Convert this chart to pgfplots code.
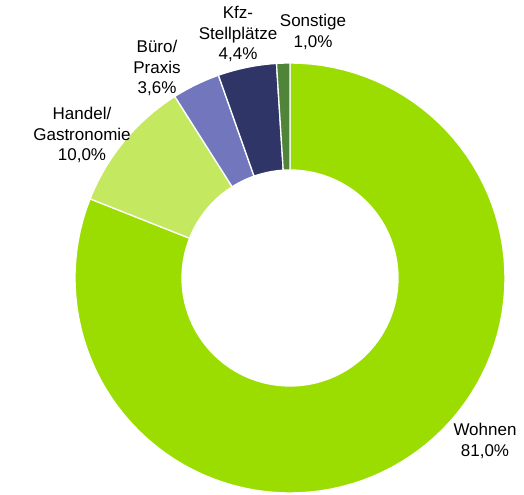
\documentclass[border=0pt]{standalone}
\usepackage{pgfplots}
\pgfplotsset{compat=1.18}
\usepackage{fontspec}
\setmainfont{Liberation Sans}
\definecolor{cWohnen}{RGB}{155,221,0}
\definecolor{cHandel}{RGB}{196,232,96}
\definecolor{cBuero}{RGB}{114,119,189}
\definecolor{cKfz}{RGB}{48,53,103}
\definecolor{cSonst}{RGB}{79,132,57}
% shares in percent
\def\vWohnen{81.0}
\def\vHandel{10.0}
\def\vBuero{3.6}
\def\vKfz{4.4}
\def\vSonst{1.0}
\pgfmathsetmacro\aA{90}
\pgfmathsetmacro\aB{\aA-\vWohnen*3.6}
\pgfmathsetmacro\aC{\aB-\vHandel*3.6}
\pgfmathsetmacro\aD{\aC-\vBuero*3.6}
\pgfmathsetmacro\aE{\aD-\vKfz*3.6}
\pgfmathsetmacro\aF{\aE-\vSonst*3.6}
\newcommand{\ringslice}[3]{%
\addplot[fill=#3, draw=white, line width=1.3bp, domain=0:201, samples=202, variable=\t]
 ({290+((\t<100.5) ? 215 : 108)*cos(((\t<100.5) ? (#1+\t/100*(#2-#1)) : (#2-(\t-101)/100*(#2-#1))))},
  {217+((\t<100.5) ? 215 : 108)*sin(((\t<100.5) ? (#1+\t/100*(#2-#1)) : (#2-(\t-101)/100*(#2-#1))))}) -- cycle;
}
\begin{document}
\begin{tikzpicture}
\begin{axis}[
  width=524bp, height=495bp, scale only axis,
  xmin=0, xmax=524, ymin=0, ymax=495,
  hide axis, clip=false,
]
\addplot[draw=none] coordinates {(0,0) (524,495)};
\ringslice{\aA}{\aB}{cWohnen}
\ringslice{\aB}{\aC}{cHandel}
\ringslice{\aC}{\aD}{cBuero}
\ringslice{\aD}{\aE}{cKfz}
\ringslice{\aE}{\aF}{cSonst}
\begin{scope}[every node/.style={align=center, font=\fontsize{17bp}{20.5bp}\selectfont, inner sep=0pt}]
\node at (axis cs:485,54) {Wohnen\\81,0\%};
\node at (axis cs:82,360) {Handel/\\Gastronomie\\10,0\%};
\node at (axis cs:157,427) {Büro/\\Praxis\\3,6\%};
\node at (axis cs:238,461) {Kfz-\\Stellplätze\\4,4\%};
\node at (axis cs:313,463) {Sonstige\\1,0\%};
\end{scope}
\end{axis}
\end{tikzpicture}
\end{document}
